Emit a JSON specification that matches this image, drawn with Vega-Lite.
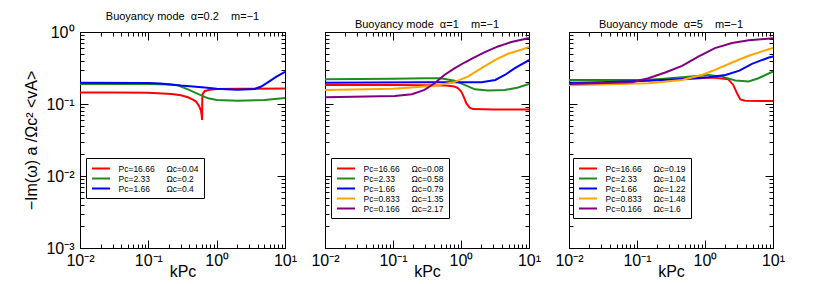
{
"$schema":"https://vega.github.io/schema/vega-lite/v6.json",
"background":"white",
"padding":{"left":23,"top":10,"right":5,"bottom":5},
"bounds":"flush",
"spacing":40,
"config":{
 "font":"Liberation Sans",
 "view":{"stroke":"#000","strokeWidth":1},
 "axis":{"grid":false,"domainColor":"#000","labelColor":"#000","titleColor":"#000","labelFontSize":16,"titleFontSize":16,"titleFontWeight":"normal","labelOverlap":false,"labelFlush":false},
 "title":{"fontSize":11,"fontWeight":"normal","color":"#000","offset":2,"anchor":"middle"},
 "legend":{"orient":"none","legendX":6,"legendY":126,"title":null,"strokeColor":"#000","fillColor":"#fff","padding":5,"symbolType":"M-2,0H2","symbolSize":81,"symbolStrokeWidth":2,"symbolOffset":4.5,"labelOffset":12,"labelFontSize":8.5,"labelColor":"#000","rowPadding":0,"cornerRadius":0}
},
"resolve":{"scale":{"color":"independent"},"legend":{"color":"independent"}},
"hconcat":[
{
 "width":205,"height":216,
 "title":"Buoyancy mode\u00a0\u00a0α=0.2\u00a0\u00a0\u00a0\u00a0m=−1",
 "data":{"values":[
  {"k":0.01,"v":0.145,"s":"r"},{"k":0.03,"v":0.145,"s":"r"},{"k":0.1,"v":0.143,"s":"r"},{"k":0.22,"v":0.138,"s":"r"},{"k":0.3,"v":0.132,"s":"r"},{"k":0.38,"v":0.124,"s":"r"},{"k":0.45,"v":0.115,"s":"r"},{"k":0.5,"v":0.108,"s":"r"},{"k":0.56,"v":0.092,"s":"r"},{"k":0.59,"v":0.08,"s":"r"},{"k":0.605,"v":0.068,"s":"r"},{"k":0.612,"v":0.06,"s":"r"},{"k":0.616,"v":0.12,"s":"r"},{"k":0.625,"v":0.138,"s":"r"},{"k":0.67,"v":0.152,"s":"r"},{"k":0.8,"v":0.158,"s":"r"},{"k":1,"v":0.161,"s":"r"},{"k":2,"v":0.163,"s":"r"},{"k":10,"v":0.164,"s":"r"},
  {"k":0.01,"v":0.19,"s":"g"},{"k":0.1,"v":0.19,"s":"g"},{"k":0.2,"v":0.187,"s":"g"},{"k":0.27,"v":0.182,"s":"g"},{"k":0.38,"v":0.16,"s":"g"},{"k":0.54,"v":0.137,"s":"g"},{"k":0.75,"v":0.12,"s":"g"},{"k":1,"v":0.114,"s":"g"},{"k":2,"v":0.111,"s":"g"},{"k":5,"v":0.114,"s":"g"},{"k":10,"v":0.121,"s":"g"},
  {"k":0.01,"v":0.198,"s":"b"},{"k":0.1,"v":0.195,"s":"b"},{"k":0.15,"v":0.192,"s":"b"},{"k":0.3,"v":0.18,"s":"b"},{"k":0.67,"v":0.17,"s":"b"},{"k":1,"v":0.163,"s":"b"},{"k":2,"v":0.158,"s":"b"},{"k":3.6,"v":0.162,"s":"b"},{"k":4.5,"v":0.175,"s":"b"},{"k":5.6,"v":0.2,"s":"b"},{"k":7.5,"v":0.24,"s":"b"},{"k":10,"v":0.28,"s":"b"}
 ]},
 "layer":[
  {"mark":{"type":"line","strokeWidth":2},
   "encoding":{
    "x":{"field":"k","type":"quantitative","scale":{"type":"log","domain":[0.01,10],"nice":false},
     "axis":{"orient":"bottom","values":[0.01,0.1,1,10],"ticks":false,
      "labelExpr":"datum.value==0.01?'10⁻²':datum.value==0.1?'10⁻¹':datum.value==1?'10⁰':'10¹'",
      "labelPadding":4,"title":"kPc","titlePadding":-5}},
    "y":{"field":"v","type":"quantitative","scale":{"type":"log","domain":[0.001,1],"nice":false},
     "axis":{"orient":"left","values":[0.001,0.01,0.1,1],"ticks":false,
      "labelExpr":"datum.value==0.001?'10⁻³':datum.value==0.01?'10⁻²':datum.value==0.1?'10⁻¹':'10⁰'",
      "labelPadding":6,"title":"−Im(ω) a /Ωc² <vA>","titlePadding":6}},
    "color":{"field":"s","type":"nominal","scale":{"domain":["r","g","b"],"range":["#ff0000","#1e8c1e","#0000ff"]},
     "legend":{"labelExpr":"datum.value=='r'?'Pc=16.66\u00a0\u00a0\u00a0\u00a0\u00a0Ωc=0.04':datum.value=='g'?'Pc=2.33\u00a0\u00a0\u00a0\u00a0\u00a0\u00a0\u00a0Ωc=0.2':'Pc=1.66\u00a0\u00a0\u00a0\u00a0\u00a0\u00a0\u00a0Ωc=0.4'"}}
   }},
  {"mark":{"type":"line","opacity":0},
   "encoding":{
    "x":{"field":"k","type":"quantitative","axis":{"orient":"bottom","values":[0.01,0.1,1,10],"labels":false,"title":null,"offset":-8,"tickSize":8,"tickColor":"black","domainOpacity":0}},
    "y":{"field":"v","type":"quantitative","axis":{"orient":"left","values":[0.001,0.01,0.1,1],"labels":false,"title":null,"offset":-8,"tickSize":8,"tickColor":"black","domainOpacity":0}},
    "detail":{"field":"s"}}},
  {"mark":{"type":"line","opacity":0},
   "encoding":{
    "x":{"field":"k","type":"quantitative","axis":{"orient":"bottom","values":[0.02,0.03,0.04,0.05,0.06,0.07,0.08,0.09,0.2,0.3,0.4,0.5,0.6,0.7,0.8,0.9,2,3,4,5,6,7,8,9],"labels":false,"title":null,"offset":-4,"tickSize":4,"tickColor":"black","domainOpacity":0}},
    "y":{"field":"v","type":"quantitative","axis":{"orient":"left","values":[0.002,0.003,0.004,0.005,0.006,0.007,0.008,0.009,0.02,0.03,0.04,0.05,0.06,0.07,0.08,0.09,0.2,0.3,0.4,0.5,0.6,0.7,0.8,0.9],"labels":false,"title":null,"offset":-4,"tickSize":4,"tickColor":"black","domainOpacity":0}},
    "detail":{"field":"s"}}},
  {"mark":{"type":"line","opacity":0},
   "encoding":{
    "x":{"field":"k","type":"quantitative","axis":{"orient":"top","values":[0.01,0.1,1,10],"labels":false,"title":null,"offset":-8,"tickSize":8,"tickColor":"black","domainOpacity":0}},
    "y":{"field":"v","type":"quantitative","axis":{"orient":"right","values":[0.001,0.01,0.1,1],"labels":false,"title":null,"offset":-8,"tickSize":8,"tickColor":"black","domainOpacity":0}},
    "detail":{"field":"s"}}},
  {"mark":{"type":"line","opacity":0},
   "encoding":{
    "x":{"field":"k","type":"quantitative","axis":{"orient":"top","values":[0.02,0.03,0.04,0.05,0.06,0.07,0.08,0.09,0.2,0.3,0.4,0.5,0.6,0.7,0.8,0.9,2,3,4,5,6,7,8,9],"labels":false,"title":null,"offset":-4,"tickSize":4,"tickColor":"black","domainOpacity":0}},
    "y":{"field":"v","type":"quantitative","axis":{"orient":"right","values":[0.002,0.003,0.004,0.005,0.006,0.007,0.008,0.009,0.02,0.03,0.04,0.05,0.06,0.07,0.08,0.09,0.2,0.3,0.4,0.5,0.6,0.7,0.8,0.9],"labels":false,"title":null,"offset":-4,"tickSize":4,"tickColor":"black","domainOpacity":0}},
    "detail":{"field":"s"}}}
 ],
 "resolve":{"axis":{"x":"independent","y":"independent"}}
},
{
 "width":204,"height":216,
 "title":"Buoyancy mode\u00a0\u00a0α=1\u00a0\u00a0\u00a0\u00a0m=−1",
 "data":{"values":[
  {"k":0.01,"v":0.184,"s":"r"},{"k":0.1,"v":0.183,"s":"r"},{"k":0.3,"v":0.182,"s":"r"},{"k":0.6,"v":0.18,"s":"r"},{"k":0.8,"v":0.175,"s":"r"},{"k":0.9,"v":0.166,"s":"r"},{"k":1.0,"v":0.15,"s":"r"},{"k":1.07,"v":0.133,"s":"r"},{"k":1.14,"v":0.115,"s":"r"},{"k":1.2,"v":0.102,"s":"r"},{"k":1.34,"v":0.089,"s":"r"},{"k":1.5,"v":0.085,"s":"r"},{"k":3,"v":0.084,"s":"r"},{"k":10,"v":0.084,"s":"r"},
  {"k":0.01,"v":0.221,"s":"g"},{"k":0.1,"v":0.224,"s":"g"},{"k":0.3,"v":0.228,"s":"g"},{"k":0.5,"v":0.227,"s":"g"},{"k":0.81,"v":0.21,"s":"g"},{"k":1.13,"v":0.184,"s":"g"},{"k":1.6,"v":0.16,"s":"g"},{"k":2.5,"v":0.154,"s":"g"},{"k":4.4,"v":0.156,"s":"g"},{"k":6.9,"v":0.17,"s":"g"},{"k":9.7,"v":0.188,"s":"g"},{"k":10,"v":0.19,"s":"g"},
  {"k":0.01,"v":0.198,"s":"b"},{"k":0.3,"v":0.2,"s":"b"},{"k":1,"v":0.2,"s":"b"},{"k":2,"v":0.2,"s":"b"},{"k":3.2,"v":0.216,"s":"b"},{"k":4.4,"v":0.253,"s":"b"},{"k":6.2,"v":0.314,"s":"b"},{"k":9.7,"v":0.4,"s":"b"},{"k":10,"v":0.41,"s":"b"},
  {"k":0.01,"v":0.157,"s":"o"},{"k":0.1,"v":0.163,"s":"o"},{"k":0.19,"v":0.169,"s":"o"},{"k":0.46,"v":0.182,"s":"o"},{"k":0.81,"v":0.203,"s":"o"},{"k":1.26,"v":0.24,"s":"o"},{"k":2.0,"v":0.314,"s":"o"},{"k":3.2,"v":0.41,"s":"o"},{"k":4.9,"v":0.498,"s":"o"},{"k":7.7,"v":0.566,"s":"o"},{"k":10,"v":0.62,"s":"o"},
  {"k":0.01,"v":0.124,"s":"p"},{"k":0.106,"v":0.129,"s":"p"},{"k":0.19,"v":0.137,"s":"p"},{"k":0.29,"v":0.157,"s":"p"},{"k":0.41,"v":0.194,"s":"p"},{"k":0.57,"v":0.253,"s":"p"},{"k":0.81,"v":0.314,"s":"p"},{"k":1.13,"v":0.377,"s":"p"},{"k":1.4,"v":0.42,"s":"p"},{"k":2.2,"v":0.52,"s":"p"},{"k":3.5,"v":0.63,"s":"p"},{"k":5.5,"v":0.725,"s":"p"},{"k":8.7,"v":0.8,"s":"p"},{"k":10,"v":0.825,"s":"p"}
 ]},
 "layer":[
  {"mark":{"type":"line","strokeWidth":2},
   "encoding":{
    "x":{"field":"k","type":"quantitative","scale":{"type":"log","domain":[0.01,10],"nice":false},
     "axis":{"orient":"bottom","values":[0.01,0.1,1,10],"ticks":false,
      "labelExpr":"datum.value==0.01?'10⁻²':datum.value==0.1?'10⁻¹':datum.value==1?'10⁰':'10¹'",
      "labelPadding":4,"title":"kPc","titlePadding":-5}},
    "y":{"field":"v","type":"quantitative","scale":{"type":"log","domain":[0.001,1],"nice":false},
     "axis":{"orient":"left","values":[0.001,0.01,0.1,1],"ticks":false,"labels":false,"title":null}},
    "color":{"field":"s","type":"nominal","scale":{"domain":["r","g","b","o","p"],"range":["#ff0000","#1e8c1e","#0000ff","#ffa500","#800080"]},
     "legend":{"legendX":6,"labelExpr":"datum.value=='r'?'Pc=16.66\u00a0\u00a0\u00a0\u00a0\u00a0Ωc=0.08':datum.value=='g'?'Pc=2.33\u00a0\u00a0\u00a0\u00a0\u00a0\u00a0\u00a0Ωc=0.58':datum.value=='b'?'Pc=1.66\u00a0\u00a0\u00a0\u00a0\u00a0\u00a0\u00a0Ωc=0.79':datum.value=='o'?'Pc=0.833\u00a0\u00a0\u00a0\u00a0\u00a0Ωc=1.35':'Pc=0.166\u00a0\u00a0\u00a0\u00a0\u00a0Ωc=2.17'"}}
   }},
  {"mark":{"type":"line","opacity":0},
   "encoding":{
    "x":{"field":"k","type":"quantitative","axis":{"orient":"bottom","values":[0.01,0.1,1,10],"labels":false,"title":null,"offset":-8,"tickSize":8,"tickColor":"black","domainOpacity":0}},
    "y":{"field":"v","type":"quantitative","axis":{"orient":"left","values":[0.001,0.01,0.1,1],"labels":false,"title":null,"offset":-8,"tickSize":8,"tickColor":"black","domainOpacity":0}},
    "detail":{"field":"s"}}},
  {"mark":{"type":"line","opacity":0},
   "encoding":{
    "x":{"field":"k","type":"quantitative","axis":{"orient":"bottom","values":[0.02,0.03,0.04,0.05,0.06,0.07,0.08,0.09,0.2,0.3,0.4,0.5,0.6,0.7,0.8,0.9,2,3,4,5,6,7,8,9],"labels":false,"title":null,"offset":-4,"tickSize":4,"tickColor":"black","domainOpacity":0}},
    "y":{"field":"v","type":"quantitative","axis":{"orient":"left","values":[0.002,0.003,0.004,0.005,0.006,0.007,0.008,0.009,0.02,0.03,0.04,0.05,0.06,0.07,0.08,0.09,0.2,0.3,0.4,0.5,0.6,0.7,0.8,0.9],"labels":false,"title":null,"offset":-4,"tickSize":4,"tickColor":"black","domainOpacity":0}},
    "detail":{"field":"s"}}},
  {"mark":{"type":"line","opacity":0},
   "encoding":{
    "x":{"field":"k","type":"quantitative","axis":{"orient":"top","values":[0.01,0.1,1,10],"labels":false,"title":null,"offset":-8,"tickSize":8,"tickColor":"black","domainOpacity":0}},
    "y":{"field":"v","type":"quantitative","axis":{"orient":"right","values":[0.001,0.01,0.1,1],"labels":false,"title":null,"offset":-8,"tickSize":8,"tickColor":"black","domainOpacity":0}},
    "detail":{"field":"s"}}},
  {"mark":{"type":"line","opacity":0},
   "encoding":{
    "x":{"field":"k","type":"quantitative","axis":{"orient":"top","values":[0.02,0.03,0.04,0.05,0.06,0.07,0.08,0.09,0.2,0.3,0.4,0.5,0.6,0.7,0.8,0.9,2,3,4,5,6,7,8,9],"labels":false,"title":null,"offset":-4,"tickSize":4,"tickColor":"black","domainOpacity":0}},
    "y":{"field":"v","type":"quantitative","axis":{"orient":"right","values":[0.002,0.003,0.004,0.005,0.006,0.007,0.008,0.009,0.02,0.03,0.04,0.05,0.06,0.07,0.08,0.09,0.2,0.3,0.4,0.5,0.6,0.7,0.8,0.9],"labels":false,"title":null,"offset":-4,"tickSize":4,"tickColor":"black","domainOpacity":0}},
    "detail":{"field":"s"}}}
 ],
 "resolve":{"axis":{"x":"independent","y":"independent"}}
},
{
 "width":204,"height":216,
 "title":"Buoyancy mode\u00a0\u00a0α=5\u00a0\u00a0\u00a0\u00a0m=−1",
 "data":{"values":[
  {"k":0.01,"v":0.215,"s":"r"},{"k":0.1,"v":0.215,"s":"r"},{"k":0.46,"v":0.22,"s":"r"},{"k":1.3,"v":0.233,"s":"r"},{"k":2.2,"v":0.22,"s":"r"},{"k":2.6,"v":0.184,"s":"r"},{"k":2.96,"v":0.141,"s":"r"},{"k":3.3,"v":0.116,"s":"r"},{"k":3.9,"v":0.111,"s":"r"},{"k":10,"v":0.11,"s":"r"},
  {"k":0.01,"v":0.212,"s":"g"},{"k":0.147,"v":0.215,"s":"g"},{"k":0.46,"v":0.235,"s":"g"},{"k":1.13,"v":0.253,"s":"g"},{"k":1.78,"v":0.24,"s":"g"},{"k":2.8,"v":0.212,"s":"g"},{"k":4.4,"v":0.205,"s":"g"},{"k":6.1,"v":0.228,"s":"g"},{"k":10,"v":0.283,"s":"g"},
  {"k":0.01,"v":0.194,"s":"b"},{"k":0.147,"v":0.21,"s":"b"},{"k":0.46,"v":0.223,"s":"b"},{"k":1.13,"v":0.235,"s":"b"},{"k":2.0,"v":0.253,"s":"b"},{"k":3.2,"v":0.291,"s":"b"},{"k":4.9,"v":0.361,"s":"b"},{"k":8.7,"v":0.443,"s":"b"},{"k":10,"v":0.458,"s":"b"},
  {"k":0.01,"v":0.182,"s":"o"},{"k":0.147,"v":0.194,"s":"o"},{"k":0.46,"v":0.216,"s":"o"},{"k":0.9,"v":0.253,"s":"o"},{"k":1.4,"v":0.298,"s":"o"},{"k":2.5,"v":0.377,"s":"o"},{"k":4.4,"v":0.468,"s":"o"},{"k":6.9,"v":0.538,"s":"o"},{"k":10,"v":0.598,"s":"o"},
  {"k":0.01,"v":0.19,"s":"p"},{"k":0.085,"v":0.2,"s":"p"},{"k":0.147,"v":0.228,"s":"p"},{"k":0.26,"v":0.274,"s":"p"},{"k":0.46,"v":0.339,"s":"p"},{"k":0.81,"v":0.458,"s":"p"},{"k":1.4,"v":0.598,"s":"p"},{"k":2.5,"v":0.702,"s":"p"},{"k":4.4,"v":0.766,"s":"p"},{"k":10,"v":0.817,"s":"p"}
 ]},
 "layer":[
  {"mark":{"type":"line","strokeWidth":2},
   "encoding":{
    "x":{"field":"k","type":"quantitative","scale":{"type":"log","domain":[0.01,10],"nice":false},
     "axis":{"orient":"bottom","values":[0.01,0.1,1,10],"ticks":false,
      "labelExpr":"datum.value==0.01?'10⁻²':datum.value==0.1?'10⁻¹':datum.value==1?'10⁰':'10¹'",
      "labelPadding":4,"title":"kPc","titlePadding":-5}},
    "y":{"field":"v","type":"quantitative","scale":{"type":"log","domain":[0.001,1],"nice":false},
     "axis":{"orient":"left","values":[0.001,0.01,0.1,1],"ticks":false,"labels":false,"title":null}},
    "color":{"field":"s","type":"nominal","scale":{"domain":["r","g","b","o","p"],"range":["#ff0000","#1e8c1e","#0000ff","#ffa500","#800080"]},
     "legend":{"legendX":4,"labelExpr":"datum.value=='r'?'Pc=16.66\u00a0\u00a0\u00a0\u00a0\u00a0Ωc=0.19':datum.value=='g'?'Pc=2.33\u00a0\u00a0\u00a0\u00a0\u00a0\u00a0\u00a0Ωc=1.04':datum.value=='b'?'Pc=1.66\u00a0\u00a0\u00a0\u00a0\u00a0\u00a0\u00a0Ωc=1.22':datum.value=='o'?'Pc=0.833\u00a0\u00a0\u00a0\u00a0\u00a0Ωc=1.48':'Pc=0.166\u00a0\u00a0\u00a0\u00a0\u00a0Ωc=1.6'"}}
   }},
  {"mark":{"type":"line","opacity":0},
   "encoding":{
    "x":{"field":"k","type":"quantitative","axis":{"orient":"bottom","values":[0.01,0.1,1,10],"labels":false,"title":null,"offset":-8,"tickSize":8,"tickColor":"black","domainOpacity":0}},
    "y":{"field":"v","type":"quantitative","axis":{"orient":"left","values":[0.001,0.01,0.1,1],"labels":false,"title":null,"offset":-8,"tickSize":8,"tickColor":"black","domainOpacity":0}},
    "detail":{"field":"s"}}},
  {"mark":{"type":"line","opacity":0},
   "encoding":{
    "x":{"field":"k","type":"quantitative","axis":{"orient":"bottom","values":[0.02,0.03,0.04,0.05,0.06,0.07,0.08,0.09,0.2,0.3,0.4,0.5,0.6,0.7,0.8,0.9,2,3,4,5,6,7,8,9],"labels":false,"title":null,"offset":-4,"tickSize":4,"tickColor":"black","domainOpacity":0}},
    "y":{"field":"v","type":"quantitative","axis":{"orient":"left","values":[0.002,0.003,0.004,0.005,0.006,0.007,0.008,0.009,0.02,0.03,0.04,0.05,0.06,0.07,0.08,0.09,0.2,0.3,0.4,0.5,0.6,0.7,0.8,0.9],"labels":false,"title":null,"offset":-4,"tickSize":4,"tickColor":"black","domainOpacity":0}},
    "detail":{"field":"s"}}},
  {"mark":{"type":"line","opacity":0},
   "encoding":{
    "x":{"field":"k","type":"quantitative","axis":{"orient":"top","values":[0.01,0.1,1,10],"labels":false,"title":null,"offset":-8,"tickSize":8,"tickColor":"black","domainOpacity":0}},
    "y":{"field":"v","type":"quantitative","axis":{"orient":"right","values":[0.001,0.01,0.1,1],"labels":false,"title":null,"offset":-8,"tickSize":8,"tickColor":"black","domainOpacity":0}},
    "detail":{"field":"s"}}},
  {"mark":{"type":"line","opacity":0},
   "encoding":{
    "x":{"field":"k","type":"quantitative","axis":{"orient":"top","values":[0.02,0.03,0.04,0.05,0.06,0.07,0.08,0.09,0.2,0.3,0.4,0.5,0.6,0.7,0.8,0.9,2,3,4,5,6,7,8,9],"labels":false,"title":null,"offset":-4,"tickSize":4,"tickColor":"black","domainOpacity":0}},
    "y":{"field":"v","type":"quantitative","axis":{"orient":"right","values":[0.002,0.003,0.004,0.005,0.006,0.007,0.008,0.009,0.02,0.03,0.04,0.05,0.06,0.07,0.08,0.09,0.2,0.3,0.4,0.5,0.6,0.7,0.8,0.9],"labels":false,"title":null,"offset":-4,"tickSize":4,"tickColor":"black","domainOpacity":0}},
    "detail":{"field":"s"}}}
 ],
 "resolve":{"axis":{"x":"independent","y":"independent"}}
}
]
}
